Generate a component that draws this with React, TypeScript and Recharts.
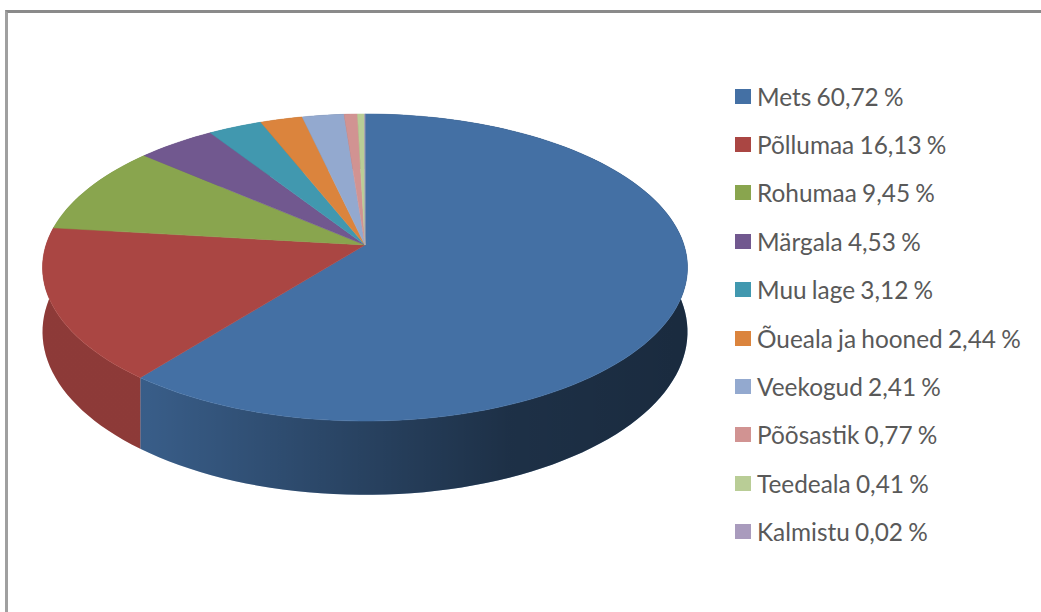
import { Legend, Pie, PieChart } from "recharts";

const landNames = [
  "Mets",
  "Põllumaa",
  "Rohumaa",
  "Märgala",
  "Muu lage",
  "Õueala ja hooned",
  "Veekogud",
  "Põõsastik",
  "Teedeala",
  "Kalmistu",
];
const landShares = [60.72, 16.13, 9.45, 4.53, 3.12, 2.44, 2.41, 0.77, 0.41, 0.02];
const sliceColors = [
  "#4470a4",
  "#aa4643",
  "#89a54e",
  "#71588f",
  "#4198af",
  "#db843d",
  "#93a9cf",
  "#d19392",
  "#b9cd96",
  "#a99bbd",
];

const tableData = landNames.map((name, i) => ({
  name: `${name} ${landShares[i].toFixed(2).replace(".", ",")} %`,
  value: landShares[i],
  fill: sliceColors[i],
}));

// tilt of the disc: vertical squash, perspective strength, wall height
const SQUASH = 0.471;
const PERSPECTIVE = 0.1466;
const WALL = 63;

function project(cx: number, cy: number, r: number, deg: number, drop = 0) {
  const rad = ((90 - deg) * Math.PI) / 180;
  const u = Math.sin(rad);
  const v = -Math.cos(rad);
  const w = 1 - PERSPECTIVE * v;
  return {
    x: cx + (r * u) / w,
    y: cy + (r * SQUASH * v) / w + drop / w,
  };
}

function rimPoints(props: any, drop = 0) {
  const { cx, cy, outerRadius, startAngle, endAngle } = props;
  const steps = Math.max(2, Math.ceil(Math.abs(endAngle - startAngle) / 2));
  const pts = [];
  for (let i = 0; i <= steps; i++) {
    const deg = startAngle + ((endAngle - startAngle) * i) / steps;
    pts.push(project(cx, cy, outerRadius, deg, drop));
  }
  return pts;
}

const toPath = (pts: { x: number; y: number }[]) =>
  pts.map((p, i) => `${i ? "L" : "M"}${p.x.toFixed(2)},${p.y.toFixed(2)}`).join("");

function TopSlice(props: any) {
  const d = `M${props.cx},${props.cy}L${toPath(rimPoints(props)).slice(1)}Z`;
  return <path d={d} fill={props.fill} stroke={props.fill} strokeWidth={0.5} />;
}

function WallSlice(props: any) {
  const top = rimPoints(props);
  const bottom = rimPoints(props, WALL).reverse();
  const d = `${toPath(top)}L${toPath(bottom).slice(1)}Z`;
  return (
    <g>
      <path d={d} fill={props.fill} />
      <path d={d} fill="url(#wallShade)" />
    </g>
  );
}

function LegendRows({ payload }: any) {
  const rows = (payload ?? []).filter((entry: any) => entry.type !== "none");
  return (
    <div>
      {rows.map((entry: any) => (
        <div
          key={entry.value}
          style={{ display: "flex", alignItems: "center", height: 48.4 }}
        >
          <span
            style={{
              width: 16,
              height: 15,
              marginRight: 6,
              backgroundColor: entry.color,
              flex: "none",
            }}
          />
          <span
            style={{
              fontFamily: "Lato, sans-serif",
              fontSize: 24.4,
              wordSpacing: -1,
              color: "#595959",
              whiteSpace: "nowrap",
            }}
          >
            {entry.value}
          </span>
        </div>
      ))}
    </div>
  );
}

export default function App() {
  return (
    <div
      style={{
        position: "absolute",
        left: 0,
        top: 0,
        width: 1041,
        height: 612,
        background: "#ffffff",
        overflow: "hidden",
      }}
    >
      <div
        style={{
          position: "absolute",
          left: 5,
          top: 10,
          right: -10,
          bottom: -10,
          borderTop: "3px solid #8a8a8a",
          borderLeft: "3px solid #a0a0a0",
        }}
      />
      <PieChart
        width={1041}
        height={612}
        margin={{ top: 0, right: 0, bottom: 0, left: 0 }}
        style={{ position: "absolute", left: 0, top: 0 }}
      >
        <defs>
          <linearGradient
            id="wallShade"
            gradientUnits="userSpaceOnUse"
            x1="43"
            y1="0"
            x2="688"
            y2="0"
          >
            <stop offset="0%" stopColor="#000" stopOpacity={0.17} />
            <stop offset="16%" stopColor="#000" stopOpacity={0.17} />
            <stop offset="48%" stopColor="#000" stopOpacity={0.4} />
            <stop offset="72%" stopColor="#000" stopOpacity={0.57} />
            <stop offset="100%" stopColor="#000" stopOpacity={0.62} />
          </linearGradient>
        </defs>
        <Pie
          data={tableData}
          dataKey="value"
          nameKey="name"
          cx={365}
          cy={245}
          outerRadius={319}
          startAngle={90}
          endAngle={-270}
          shape={WallSlice}
          legendType="none"
          stroke="none"
          isAnimationActive={false}
        />
        <Pie
          data={tableData}
          dataKey="value"
          nameKey="name"
          cx={365}
          cy={245}
          outerRadius={319}
          startAngle={90}
          endAngle={-270}
          shape={TopSlice}
          stroke="none"
          isAnimationActive={false}
        />
        <Legend
          layout="vertical"
          align="right"
          verticalAlign="top"
          itemSorter={null}
          content={LegendRows}
          wrapperStyle={{ left: 735, top: 72, right: "auto", width: 300 }}
        />
      </PieChart>
    </div>
  );
}
